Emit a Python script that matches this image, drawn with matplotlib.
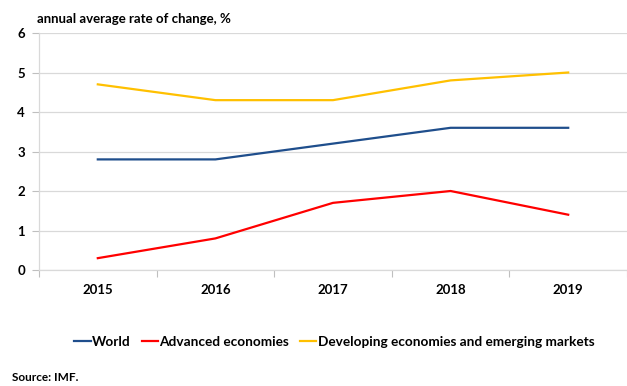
import matplotlib.pyplot as plt
import numpy as np

years = ['2015', '2016', '2017', '2018', '2019']
world = [2.8, 2.8, 3.2, 3.6, 3.6]
advanced = [0.3, 0.8, 1.7, 2.0, 1.4]
developing = [4.7, 4.3, 4.3, 4.8, 5.0]

plt.rcParams['font.family'] = ['Lato', 'DejaVu Sans']
plt.rcParams['font.weight'] = 'bold'

fig = plt.figure(figsize=(6.27, 3.86), dpi=100)
ax = fig.add_axes([0.0622, 0.3005, 0.9378, 0.614])

x = np.arange(len(years))
ax.plot(x, world, color='#1F4E8C', lw=1.6, label='World')
ax.plot(x, advanced, color='#FF0000', lw=1.6, label='Advanced economies')
ax.plot(x, developing, color='#FFC000', lw=1.6, label='Developing economies and emerging markets')

ax.set_xlim(-0.5, 4.49)
ax.set_ylim(0, 6)
ax.set_yticks(range(7))
ax.set_xticks(x)
ax.set_xticklabels(years)
ax.set_xticks(np.arange(-0.5, 5, 1), minor=True)
ax.tick_params(axis='x', which='major', length=0, pad=10, labelsize=9.5)
ax.tick_params(axis='x', which='minor', length=5, color='#BFBFBF', width=0.8)
ax.tick_params(axis='y', length=5, color='#BFBFBF', width=0.8, labelsize=9.5, pad=5)
for lab in ax.get_xticklabels() + ax.get_yticklabels():
    lab.set_fontweight('bold')

ax.grid(axis='y', color='#D9D9D9', lw=0.9)
ax.set_axisbelow(True)
for s in ['top', 'right']:
    ax.spines[s].set_visible(False)
ax.spines['left'].set_color('#D9D9D9')
ax.spines['bottom'].set_color('#D9D9D9')
ax.spines['left'].set_linewidth(0.9)
ax.spines['bottom'].set_linewidth(0.9)

fig.text(0.059, 0.952, 'annual average rate of change, %', fontsize=9.5, fontweight='bold', va='center')
fig.text(0.019, 0.022, 'Source: IMF.', fontsize=8.5, fontweight='bold', va='center')

leg = fig.legend(loc='center', bbox_to_anchor=(0.533, 0.115), ncol=3, frameon=False,
                 fontsize=9.8, handlelength=1.2, handletextpad=0.1, columnspacing=0.8)

fig.savefig('out.png', dpi=100)
